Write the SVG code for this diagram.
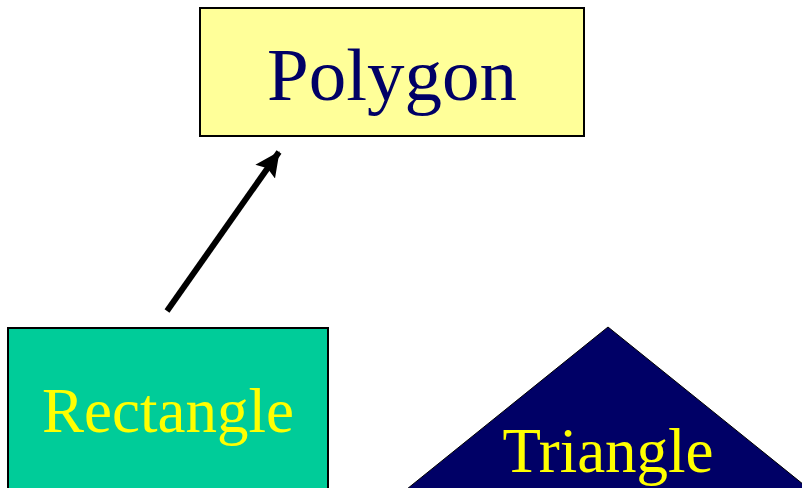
<svg xmlns="http://www.w3.org/2000/svg" width="802" height="488" viewBox="0 0 802 488">
<style>
.lbl{font-family:"Liberation Serif","Times New Roman",serif;text-anchor:middle}
.box{stroke:#000;stroke-width:2}
</style>
<defs>
<marker id="ah" markerUnits="userSpaceOnUse" markerWidth="26" markerHeight="26" viewBox="0 0 26 26" refX="24" refY="13" orient="auto">
<path d="M0,1 L25,13 L0,25 L4,13 Z" fill="#000"/>
</marker>
</defs>
<rect width="802" height="488" fill="#fff"/>
<g id="polygon">
<rect class="box" x="200" y="8" width="384" height="128" fill="#ffff99"/>
<text class="lbl" x="392" y="100" font-size="75" fill="#000066">Polygon</text>
</g>
<g id="rectangle">
<rect class="box" x="8" y="328" width="320" height="170" fill="#00cc99"/>
<text class="lbl" x="168" y="432" font-size="63" fill="#ffff00">Rectangle</text>
</g>
<g id="triangle">
<polygon points="608,327 407,489 809,489" fill="#000066" stroke="#000" stroke-width="1"/>
<text class="lbl" x="608" y="472" font-size="63" fill="#ffff00">Triangle</text>
</g>
<g id="connectors">
<line x1="167" y1="311" x2="279" y2="152" stroke="#000" stroke-width="6" marker-end="url(#ah)"/>
</g>
</svg>
